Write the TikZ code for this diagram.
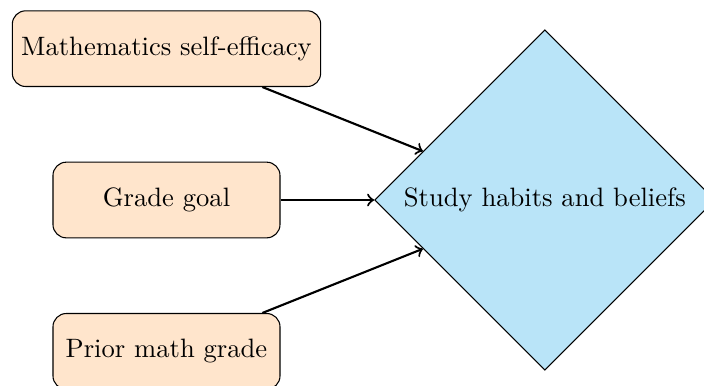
\documentclass[tikz,border=0pt]{standalone}
\usetikzlibrary{shapes.geometric}
\definecolor{peach}{RGB}{255,229,204}
\definecolor{lightsky}{RGB}{185,228,248}

\begin{document}
\begin{tikzpicture}[->,auto,node distance=2cm,
    factor node/.style={rectangle,rounded corners=5pt,draw,fill=peach,minimum width=3cm,minimum height=1cm},
    outcome node/.style={diamond,draw,fill=lightsky,aspect=1,minimum size=4.5cm,inner sep=1pt}]

            % frame, the goal box sits at the origin
            \useasboundingbox (-62.6pt,75.2pt) rectangle (202.1pt,-69.9pt);

            \node[factor node] (goal) at (0,0) {Grade goal};
            \node[factor node] (efficacy) [above of = goal]{Mathematics self-efficacy};
            \node[factor node] (prior) [below of = goal]{Prior math grade};
            \node[outcome node] (habits) [right of = goal, node distance=5cm]{Study habits and beliefs};

            \draw[->, thick] (efficacy) to (habits);
            \draw[->, thick] (goal) to (habits);
            \draw[->, thick] (prior) to (habits);
        \end{tikzpicture}
\end{document}
